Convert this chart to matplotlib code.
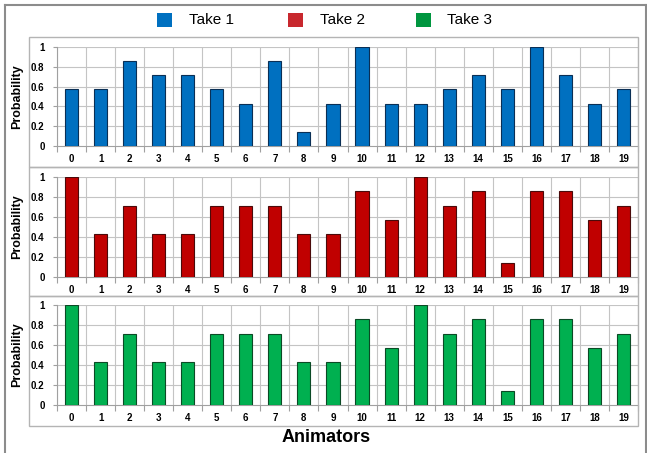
import matplotlib
matplotlib.use("Agg")
import matplotlib.pyplot as plt
from matplotlib.patches import Rectangle

plt.rcParams['font.family'] = ['Liberation Sans', 'DejaVu Sans']

animators = [str(i) for i in range(20)]
take1 = [0.571, 0.571, 0.857, 0.714, 0.714, 0.571, 0.429, 0.857, 0.143, 0.429,
         1.0, 0.429, 0.429, 0.571, 0.714, 0.571, 1.0, 0.714, 0.429, 0.571]
take2 = [1.0, 0.429, 0.714, 0.429, 0.429, 0.714, 0.714, 0.714, 0.429, 0.429,
         0.857, 0.571, 1.0, 0.714, 0.857, 0.143, 0.857, 0.857, 0.571, 0.714]
take3 = [1.0, 0.429, 0.714, 0.429, 0.429, 0.714, 0.714, 0.714, 0.429, 0.429,
         0.857, 0.571, 1.0, 0.714, 0.857, 0.143, 0.857, 0.857, 0.571, 0.714]
series_names = ["Take 1", "Take 2", "Take 3"]
y_ticks = [0, 0.2, 0.4, 0.6, 0.8, 1]
y_tick_labels = ["0", "0.2", "0.4", "0.6", "0.8", "1"]

fill_colors = ["#0070C0", "#C00000", "#00B050"]
edge_colors = ["#0A2F55", "#4A0A0A", "#0B4A25"]
legend_colors = ["#0070C0", "#C8282E", "#00963F"]

W, H = 647, 453
fig = plt.figure(figsize=(W / 100, H / 100), dpi=100)

def fx(px):
    return px / W

def fy(py):
    return 1 - py / H

# outer frame
fig.add_artist(plt.Line2D([fx(5), fx(5)], [fy(5), fy(460)], color="#8c8c8c", lw=1.5))
fig.add_artist(plt.Line2D([fx(5), fx(646)], [fy(5), fy(5)], color="#8c8c8c", lw=1.5))
fig.add_artist(plt.Line2D([fx(646), fx(646)], [fy(5), fy(460)], color="#8c8c8c", lw=1.5))

# chart-area boxes: (box top, box bottom, plot top, plot bottom) in pixels
panels = [(37, 167, 47, 146), (167, 296, 177, 277), (296, 426, 305, 405)]
plot_left, plot_right = 57, 638
box_left = 29
grid_color = "#c4c4c4"

x = list(range(len(animators)))
for data, fc, ec, (bt, bb, pt, pb) in zip([take1, take2, take3], fill_colors,
                                         edge_colors, panels):
    fig.add_artist(Rectangle((fx(box_left), fy(bb)), fx(plot_right) - fx(box_left),
                             fy(bt) - fy(bb), transform=fig.transFigure,
                             fill=False, edgecolor="#b4b4b4", lw=1.0))
    ax = fig.add_axes([fx(plot_left), fy(pb), fx(plot_right) - fx(plot_left),
                       fy(pt) - fy(pb)])
    ax.set_xlim(-0.5, 19.5)
    ax.set_ylim(0, 1)
    for yv in y_ticks[1:]:
        ax.axhline(yv, color=grid_color, lw=0.8, zorder=0)
    for xv in range(21):
        ax.axvline(xv - 0.5, color=grid_color, lw=0.8, zorder=0)
    ax.bar(x, data, width=0.45, color=fc, edgecolor=ec, linewidth=0.8, zorder=3)
    for s in ["top", "right"]:
        ax.spines[s].set_visible(False)
    for s in ["left", "bottom"]:
        ax.spines[s].set_color("#a0a0a0")
        ax.spines[s].set_linewidth(0.8)
    ax.set_yticks(y_ticks)
    ax.set_yticklabels(y_tick_labels, fontsize=7, fontweight="bold")
    ax.set_xticks(x)
    ax.set_xticklabels(animators, fontsize=7, fontweight="bold")
    ax.set_xticks([v - 0.5 for v in range(21)], minor=True)
    ax.tick_params(axis="x", which="major", length=0, pad=6)
    ax.tick_params(axis="x", which="minor", length=4, color="#a0a0a0", width=0.8)
    ax.tick_params(axis="y", length=3, color="#a0a0a0", width=0.8, pad=6)
    ax.set_ylabel("Probability", fontsize=9, fontweight="bold")
    ax.yaxis.set_label_coords((23 - plot_left) / (plot_right - plot_left), 0.5)
    ax.patch.set_alpha(0)

fig.text(fx(326), fy(438), "Animators", fontsize=13, fontweight="bold",
         ha="center", va="center")

# legend
legend_x = [157, 288, 416]
text_x = [189, 320, 447]
for name, col, lx, tx in zip(series_names, legend_colors, legend_x, text_x):
    fig.add_artist(Rectangle((fx(lx), fy(27)), fx(15), fy(13) - fy(27),
                             transform=fig.transFigure, facecolor=col,
                             edgecolor="none"))
    fig.text(fx(tx), fy(20), name, fontsize=11, ha="left", va="center")

fig.savefig("out.png", dpi=100)
